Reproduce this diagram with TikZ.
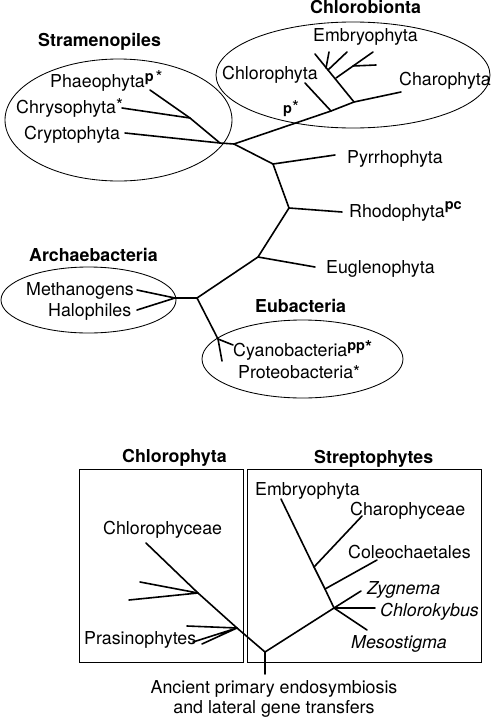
\documentclass[tikz,border=0pt]{standalone}
\usepackage{fontspec}
\setmainfont{TeX Gyre Heros}
\usetikzlibrary{shapes.geometric}
\newcommand{\supx}[2][6pt]{\raisebox{#1}{\fontsize{14.5}{15}\selectfont #2}}
\newcommand{\astx}[1][3pt]{\raisebox{#1}{*}}
\tikzset{
  lbl/.style={anchor=base west, inner sep=0pt, font=\fontsize{17.8}{20}\selectfont},
  ttl/.style={anchor=base west, inner sep=0pt, font=\fontsize{17.8}{20}\selectfont\bfseries},
  clbl/.style={anchor=base, inner sep=0pt, font=\fontsize{17.8}{20}\selectfont},
  br/.style={line width=1.6pt, line join=round, line cap=round},
  grp/.style={draw, line width=0.85pt, inner sep=0pt, outer sep=0pt},
  ell/.style={grp, ellipse}
}
\begin{document}
\begin{tikzpicture}[x=1pt,y=-1pt]
\useasboundingbox (0,0) rectangle (500,718);
% ---------- groups ----------
\node[ell, minimum width=227, minimum height=122] (strEll) at (118.5,120) {};
\node[ell, minimum width=274, minimum height=106] (chlEll) at (353,75) {};
\node[ell, minimum width=175, minimum height=66] (arcEll) at (88.5,300) {};
\node[ell, minimum width=201, minimum height=78] (eubEll) at (302.5,359) {};
% ---------- titles ----------
\node[ttl] (tStr) at (38,46) {Stramenopiles};
\node[ttl] (tChl) at (310,13) {Chlorobionta};
\node[ttl] (tArc) at (29,261) {Archaebacteria};
\node[ttl] (tEub) at (255,312) {Eubacteria};
% ---------- labels ----------
\node[lbl] (lPhae) at (50,87) {Phaeophyta\supx{\textbf{p}}\hspace{2pt}\astx[4pt]};
\node[lbl] (lChry) at (16,113) {Chrysophyta\astx[2pt]};
\node[lbl] (lCryp) at (24,139) {Cryptophyta};
\node[lbl] (lEmb) at (313,41) {Embryophyta};
\node[lbl] (lChlo) at (222,79) {Chlorophyta};
\node[lbl] (lChar) at (399,85) {Charophyta};
\node[lbl] (lPst) at (283,113) {\supx[0pt]{\textbf{p}}*};
\node[lbl] (lPyr) at (347,163) {Pyrrhophyta};
\node[lbl] (lRho) at (349,217) {Rhodophyta\supx[8pt]{\textbf{pc}}};
\node[lbl] (lEug) at (326,273) {Euglenophyta};
\node[lbl] (lMeth) at (26,295) {Methanogens};
\node[lbl] (lHalo) at (48,316) {Halophiles};
\node[lbl] (lCyan) at (233,356) {Cyanobacteria\supx{\textbf{pp}}\raisebox{3pt}{\bfseries *}};
\node[lbl] (lProt) at (238,378) {Proteobacteria*};
% ---------- top tree ----------
\coordinate (tPhae) at (150,90);
\coordinate (tChry) at (122,108);
\coordinate (tCryp) at (125,133);
\coordinate (nP1) at (190,118);
\coordinate (nJ1) at (220,143);
\coordinate (nJ2) at (234,144);
\coordinate (nChlo) at (331,111);
\coordinate (tChlo) at (305,83);
\coordinate (nEmb) at (354,102);
\coordinate (tEmb) at (315,54);
\coordinate (nE1) at (326,68);
\coordinate (nE1b) at (328,70);
\coordinate (nE2) at (336,78);
\coordinate (nE3) at (353,66);
\coordinate (sA) at (329,52);
\coordinate (sB) at (347,52);
\coordinate (sC) at (373,52);
\coordinate (sD) at (376,65);
\coordinate (tChar) at (401,92);
\coordinate (nPyr) at (273,164);
\coordinate (tPyr) at (335,155);
\coordinate (nRho) at (289,208);
\coordinate (tRho) at (342,212);
\coordinate (nEug) at (258,257);
\coordinate (tEug) at (315,267);
\coordinate (nRoot) at (197,298);
\coordinate (nArch) at (175,298);
\coordinate (tMeth) at (137,290);
\coordinate (tHalo) at (137,310);
\coordinate (nEub) at (218,339);
\coordinate (tCyan) at (233,345);
\coordinate (tProt) at (222,361);

\draw[br] (tPhae) -- (nP1) -- (nJ1) -- (nJ2);
\draw[br] (tChry) -- (nP1);
\draw[br] (tCryp) -- (nJ1);
\draw[br] (nJ2) -- (nChlo) -- (nEmb) -- (tChar);
\draw[br] (tChlo) -- (nChlo);
\draw[br] (tEmb) -- (nEmb);
\draw[br] (sA) -- (nE1);
\draw[br] (sB) -- (nE1b);
\draw[br] (sC) -- (nE2);
\draw[br] (sD) -- (nE3);
\draw[br] (nJ2) -- (nPyr) -- (nRho) -- (nEug) -- (nRoot) -- (nArch);
\draw[br] (nPyr) -- (tPyr);
\draw[br] (nRho) -- (tRho);
\draw[br] (nEug) -- (tEug);
\draw[br] (tMeth) -- (nArch) -- (tHalo);
\draw[br] (nRoot) -- (nEub) -- (tProt);
\draw[br] (nEub) -- (tCyan);

% ---------- bottom panel ----------
\node[grp, minimum width=164, minimum height=193] (chlBox) at (161,565.5) {};
\node[grp, minimum width=234, minimum height=193] (strBox) at (364,565.5) {};
\node[ttl] (tChl2) at (122,462) {Chlorophyta};
\node[ttl] (tStp) at (314,463) {Streptophytes};
\node[lbl] (lChlc) at (103,534) {Chlorophyceae};
\node[lbl] (lPras) at (84,644) {Prasinophytes};
\node[lbl] (lEmb2) at (255,495) {Embryophyta};
\node[lbl] (lChrc) at (350,515) {Charophyceae};
\node[lbl] (lCol) at (348,558) {Coleochaetales};
\node[lbl, font=\fontsize{17.8}{20}\selectfont\itshape] (lZyg) at (367,594) {Zygnema};
\node[lbl, font=\fontsize{17.8}{20}\selectfont\itshape] (lChk) at (380,616) {Chlorokybus};
\node[lbl, font=\fontsize{17.8}{20}\selectfont\itshape] (lMes) at (351,648) {Mesostigma};
\node[clbl] (lAnc1) at (274,693) {Ancient primary endosymbiosis};
\node[clbl] (lAnc2) at (274,713) {and lateral gene transfers};

\coordinate (bRoot) at (265,652);
\coordinate (bBase) at (265,674);
\coordinate (tChlc) at (146,543);
\coordinate (nC1) at (198,593);
\coordinate (nC2) at (237,628);
\coordinate (c1a) at (140,582);
\coordinate (c1b) at (129,600);
\coordinate (c2a) at (187,626);
\coordinate (c2b) at (193,642);
\coordinate (c2c) at (202,644);
\coordinate (nS) at (334,608);
\coordinate (nCol) at (325,589);
\coordinate (nChrc) at (314,567);
\coordinate (tEmb2) at (281,499);
\coordinate (tChrc) at (362,516);
\coordinate (tCol) at (377,560);
\coordinate (tZyg) at (361,591);
\coordinate (tChk) at (375,608);
\coordinate (tMes) at (367,630);

\draw[br] (tChlc) -- (nC1) -- (nC2) -- (bRoot) -- (nS);
\draw[br] (bRoot) -- (bBase);
\draw[br] (c1a) -- (nC1) -- (c1b);
\draw[br] (c2a) -- (nC2);
\draw[br] (c2b) -- (nC2) -- (c2c);
\draw[br] (nS) -- (nCol) -- (nChrc) -- (tEmb2);
\draw[br] (tChrc) -- (nChrc);
\draw[br] (tCol) -- (nCol);
\draw[br] (tZyg) -- (nS) -- (tChk);
\draw[br] (nS) -- (tMes);
\end{tikzpicture}
\end{document}
